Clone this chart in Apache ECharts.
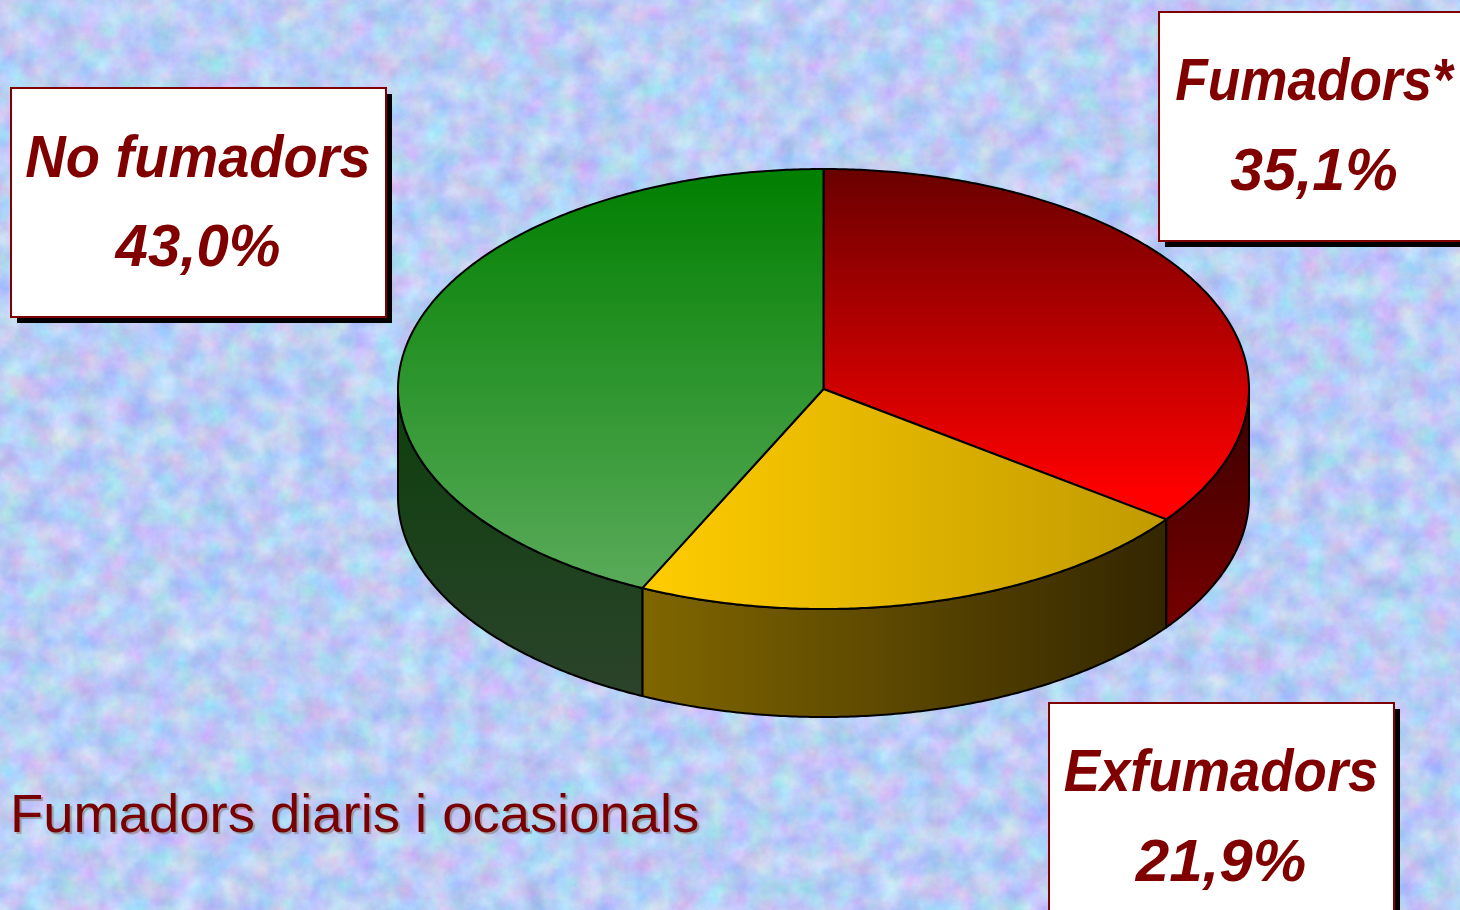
<!DOCTYPE html>
<html><head><meta charset="utf-8">
<style>html,body{margin:0;padding:0;width:1460px;height:910px;overflow:hidden}
#bg{position:absolute;left:0;top:0}
#chart{position:absolute;left:0;top:0;width:1460px;height:910px}</style>
<script src="https://cdn.jsdelivr.net/npm/echarts@6/dist/echarts.min.js"></script>
</head><body>
<svg id="bg" width="1460" height="910" xmlns="http://www.w3.org/2000/svg">
<filter id="mottle" x="0" y="0" width="100%" height="100%" color-interpolation-filters="sRGB">
<feTurbulence type="fractalNoise" baseFrequency="0.04" numOctaves="5" seed="11" result="n"/>
<feColorMatrix type="matrix" values="0.34 0 0 0 0.56  0 0.3 0 0 0.655  0 0 0.16 0 0.88  0 0 0 0 1"/>
</filter>
<rect width="1460" height="910" fill="#b9cdf5" filter="url(#mottle)"/>
</svg>
<div id="chart"></div>
<script>
const categories = ['Fumadors*', 'Exfumadors', 'No fumadors'];
const values = [35.1, 21.9, 43.0];
const valueLabels = ['35,1%', '21,9%', '43,0%'];
const note = 'Fumadors diaris i ocasionals';

const pie = {cx: 823.5, cy: 389, rx: 425.5, ry: 220, depth: 108};
const boxes = [
  {x: 1159, y: 12, w: 320, h: 229, tx: 1314, y1: 84, y2: 174, sx1: 0.90, sx2: 1.0},
  {x: 1049, y: 703, w: 345, h: 230, tx: 1221, y1: 775, y2: 865, sx1: 0.923, sx2: 1.02},
  {x: 11, y: 88, w: 375, h: 229, tx: 198, y1: 161, y2: 250, sx1: 0.949, sx2: 0.985}
];
const fills = [
  {top: [0, 168, 0, 495, '#690000', '#ff0000'], side: [0, 389, 0, 625, '#3a0000', '#750000']},
  {top: [644, 0, 1168, 0, '#ffcc00', '#c09a00'], side: [644, 0, 1168, 0, '#806600', '#332600']},
  {top: [0, 168, 0, 580, '#007f00', '#58aa58'], side: [0, 389, 0, 695, '#0c3f0c', '#2b432b']}
];

const total = values.reduce((a, b) => a + b, 0);
const grad = g => new echarts.graphic.LinearGradient(g[0], g[1], g[2], g[3],
  [{offset: 0, color: g[4]}, {offset: 1, color: g[5]}], true);
const pt = (deg, dy) => {
  const a = deg * Math.PI / 180;
  return [pie.cx + pie.rx * Math.sin(a), pie.cy - pie.ry * Math.cos(a) + (dy || 0)];
};
const arc = (a0, a1, dy) => {
  const out = [], n = Math.max(2, Math.ceil(Math.abs(a1 - a0) * 2));
  for (let i = 0; i <= n; i++) out.push(pt(a0 + (a1 - a0) * i / n, dy));
  return out;
};

const starts = [];
values.reduce((acc, v, i) => { starts[i] = acc; return acc + v; }, 0);

function renderItem(params, api) {
  const i = params.dataIndex;
  const a0 = starts[i] / total * 360, a1 = (starts[i] + values[i]) / total * 360;
  const children = [];
  const s0 = Math.max(a0, 90), s1 = Math.min(a1, 270);
  const stroke = {stroke: '#000', lineWidth: 2, lineJoin: 'round'};
  if (s1 > s0) {
    const wall = arc(s0, s1, 0).concat(arc(s1, s0, pie.depth));
    children.push({type: 'polygon', shape: {points: wall}, style: Object.assign({fill: grad(fills[i].side)}, stroke)});
  }
  const top = [[pie.cx, pie.cy]].concat(arc(a0, a1, 0));
  children.push({type: 'polygon', shape: {points: top}, style: Object.assign({fill: grad(fills[i].top)}, stroke), z2: 5});
  return {type: 'group', children};
}

const graphicEls = [];
categories.forEach((c, i) => {
  const b = boxes[i];
  graphicEls.push({type: 'rect', shape: {x: b.x + 6, y: b.y + 6, width: b.w, height: b.h}, style: {fill: '#000'}, z: 10});
  graphicEls.push({type: 'rect', shape: {x: b.x, y: b.y, width: b.w, height: b.h}, style: {fill: '#fff', stroke: '#800000', lineWidth: 2}, z: 11});
  const font = {fill: '#800000', fontFamily: 'Liberation Sans', fontStyle: 'italic', fontWeight: 'bold', fontSize: 59, align: 'center', verticalAlign: 'middle'};
  graphicEls.push({type: 'text', x: b.tx, y: b.y1, scaleX: b.sx1, style: Object.assign({text: c}, font), z: 12});
  graphicEls.push({type: 'text', x: b.tx, y: b.y2, scaleX: b.sx2, style: Object.assign({text: valueLabels[i]}, font), z: 12});
});
graphicEls.push({type: 'text', x: 10, y: 817, z: 12, style: {text: note, fill: '#780000', fontFamily: 'Liberation Sans', fontSize: 54.4, align: 'left', verticalAlign: 'middle', textShadowColor: 'rgba(120,100,90,0.5)', textShadowOffsetX: 2, textShadowOffsetY: 2, textShadowBlur: 1}});

const chart = echarts.init(document.getElementById('chart'), null, {renderer: 'canvas'});
chart.setOption({
  backgroundColor: 'transparent',
  animation: false,
  series: [{type: 'custom', coordinateSystem: 'none', silent: true, renderItem, data: values.map((v, i) => ({name: categories[i], value: v})), clip: false}],
  graphic: {elements: graphicEls}
});
</script>
</body></html>
